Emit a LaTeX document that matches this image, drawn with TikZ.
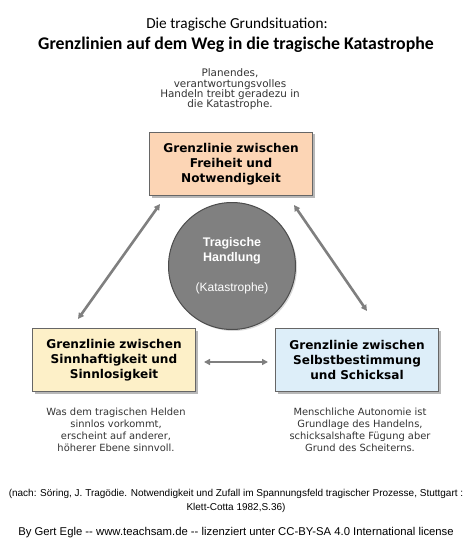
\documentclass[tikz,border=0pt]{standalone}
\usepackage{fontspec}
\setmainfont{DejaVu Sans}
\newfontfamily\titlefont{Carlito}
\newfontfamily\arialfont{Liberation Sans}
\usetikzlibrary{shadows,arrows.meta}
\definecolor{peach}{HTML}{FCD5B5}
\definecolor{paleyellow}{HTML}{FDF0C8}
\definecolor{paleblue}{HTML}{DDEEF9}
\definecolor{arrowgray}{HTML}{7F7F7F}
\tikzset{
  grenzbox/.style={draw=black!60, line width=0.8pt, minimum width=163pt, minimum height=63pt,
    text width=160pt, align=center, inner sep=0pt,
    font=\bfseries\fontsize{12.1}{15}\selectfont,
    drop shadow={shadow xshift=2pt, shadow yshift=-2pt, fill=black!35, opacity=.8}},
  note/.style={align=center, text=black!80, font=\fontsize{9.9}{12}\selectfont},
  quelltext/.style={font=\arialfont\fontsize{10}{12}\selectfont, inner sep=0pt},
  pfeil/.style={{Triangle[width=6pt,length=6pt]}-{Triangle[width=6pt,length=6pt]},
    draw=arrowgray, line width=2.6pt, shorten <=0pt, shorten >=0pt}
}
\begin{document}
\begin{tikzpicture}[x=1pt,y=-1pt]
		\useasboundingbox (0,0) rectangle (474,556);

		%titles
		\node (titel1) at (237,25) {\titlefont\fontsize{15.3}{17}\selectfont Die tragische Grundsituation:};
		\node (titel2) at (236,45) {\titlefont\bfseries\fontsize{17.8}{20}\selectfont Grenzlinien auf dem Weg in die tragische Katastrophe};

		%boxes
		\node[grenzbox, fill=peach] (freiheit) at (231,164) {Grenzlinie zwischen\\Freiheit und\\Notwendigkeit};
		\node[grenzbox, fill=paleyellow] (sinn) at (114,360) {Grenzlinie zwischen\\Sinnhaftigkeit und\\Sinnlosigkeit};
		\node[grenzbox, fill=paleblue] (selbst) at (357,360) {Grenzlinie zwischen\\Selbstbestimmung\\und Schicksal};

		%circle
		\node[circle, draw=black!70, line width=1pt, fill=black!50, minimum size=127pt,
			drop shadow={shadow xshift=1.5pt, shadow yshift=-1.5pt, fill=black!30}] (handlung) at (232,266) {};
		\node[text=white, align=center, font=\arialfont\bfseries\fontsize{12.5}{15}\selectfont] (tragisch) at (232,251) {Tragische\\Handlung};
		\node[text=white, font=\arialfont\fontsize{12}{13}\selectfont] (kata) at (232,288) {(Katastrophe)};

		%notes
		\node[note, font=\fontsize{10.4}{10.4}\selectfont] (planend) at (230,89.5) {Planendes,\\verantwortungsvolles\\Handeln treibt geradezu in\\die Katastrophe.};
		\node[note] (sinnnote) at (116,430) {Was dem tragischen Helden\\sinnlos vorkommt,\\erscheint auf anderer,\\höherer Ebene sinnvoll.};
		\node[note] (selbstnote) at (360,430) {Menschliche Autonomie ist\\Grundlage des Handelns,\\schicksalshafte Fügung aber\\Grund des Scheiterns.};

		%arrows
		\coordinate (a1) at (78,319);
		\coordinate (a2) at (160,204);
		\coordinate (b1) at (294,205);
		\coordinate (b2) at (367,311);
		\coordinate (c1) at (204,362);
		\coordinate (c2) at (268,362);
		\draw[pfeil] (a1) -- (a2);
		\draw[pfeil] (b1) -- (b2);
		\draw[pfeil] (c1) -- (c2);

		%source
		\node[quelltext] (quelle) at (236,494) {(nach: Söring, J. Tragödie. Notwendigkeit und Zufall im Spannungsfeld tragischer Prozesse, Stuttgart :};
		\node[quelltext] (quelle2) at (236,508) {Klett-Cotta 1982,S.36)};
		\node[font=\arialfont\fontsize{11.3}{12}\selectfont] (lizenz) at (236,533) {By Gert Egle -- www.teachsam.de -- lizenziert unter CC-BY-SA 4.0 International license};
	\end{tikzpicture}
\end{document}
